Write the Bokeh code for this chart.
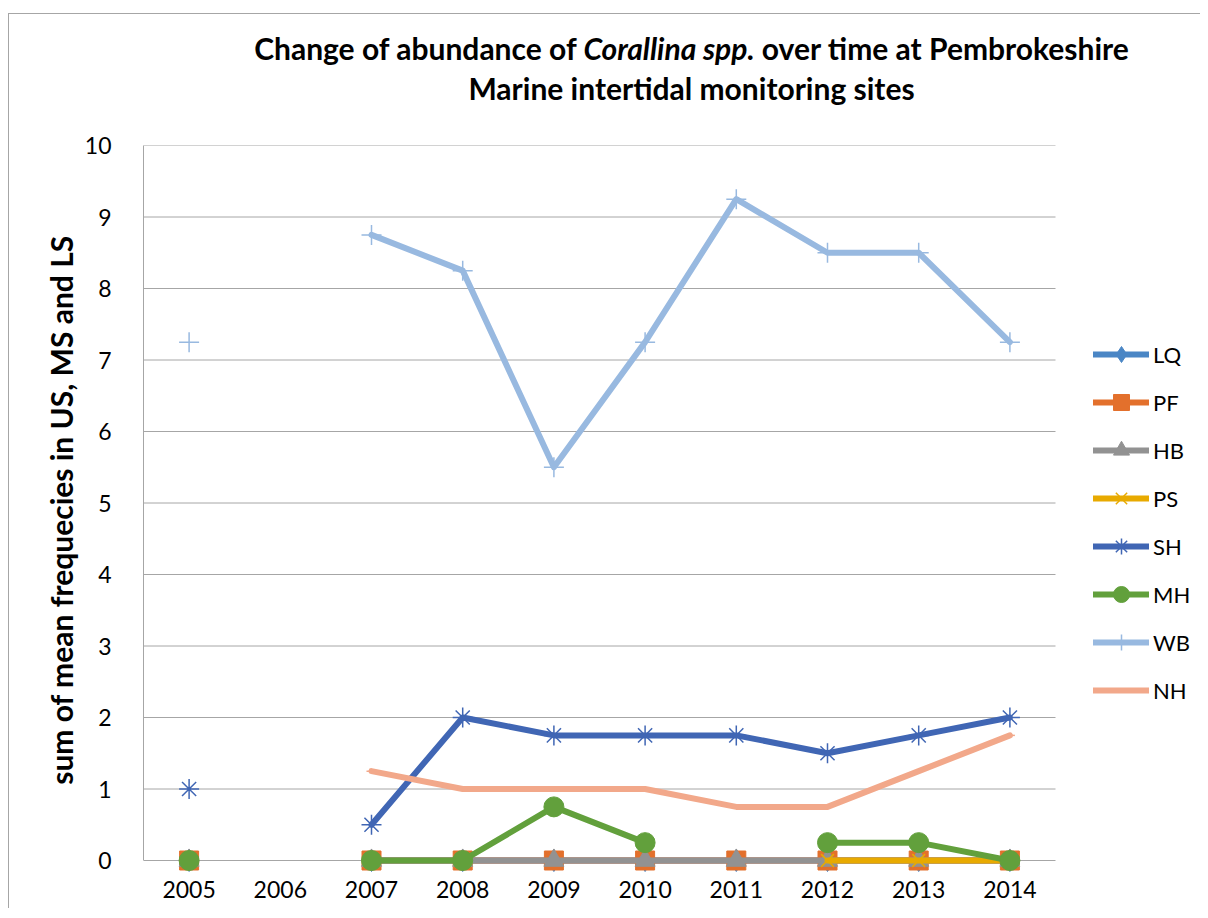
import numpy as np
from bokeh.plotting import figure
from bokeh.layouts import column
from bokeh.models import (ColumnDataSource, Range1d, FixedTicker, Legend, LegendItem, Div)
from bokeh.embed import file_html
from bokeh.resources import INLINE

years = [2005, 2006, 2007, 2008, 2009, 2010, 2011, 2012, 2013, 2014]
series_names = ["LQ", "PF", "HB", "PS", "SH", "MH", "WB", "NH"]
LQ = [0, None, 0, 0, 0, 0, 0, 0, 0, 0]
PF = [0, None, 0, 0, 0, 0, 0, 0, 0, 0]
HB = [0, None, 0, 0, 0, 0, 0, 0, 0, 0]
PS = [None, None, None, None, None, None, None, 0, 0, 0]
SH = [1, None, 0.5, 2, 1.75, 1.75, 1.75, 1.5, 1.75, 2]
MH = [0, None, 0, 0, 0.75, 0.25, None, 0.25, 0.25, 0]
WB = [7.25, None, 8.75, 8.25, 5.5, 7.25, 9.25, 8.5, 8.5, 7.25]
NH = [None, None, 1.25, 1.0, 1.0, 1.0, 0.75, 0.75, 1.25, 1.75]
y_ticks = [0, 1, 2, 3, 4, 5, 6, 7, 8, 9, 10]

values = {"LQ": LQ, "PF": PF, "HB": HB, "PS": PS, "SH": SH, "MH": MH, "WB": WB, "NH": NH}
colors = {"LQ": "#4a86c5", "PF": "#e3702c", "HB": "#929292", "PS": "#e8aa00",
          "SH": "#4066b4", "MH": "#62a03c", "WB": "#98b9e0", "NH": "#f2a88a"}
markers = {"LQ": ("diamond", 22), "PF": ("square", 19), "HB": ("triangle", 20),
           "PS": ("x", 18), "SH": ("asterisk", 20), "MH": ("circle", 20),
           "WB": ("cross", 20), "NH": ("dash", 10)}

FONT = "Lato"
BORDER = "#a6a6a6"

# layout geometry (pixels, page coordinates)
OX, OY = 9, 14                     # content origin inside bordered container
FIG_W = 1200 - OX
PLOT_LEFT, PLOT_RIGHT = 143, 1055  # frame x extent of the category area
PLOT_TOP, PLOT_ZERO = 145, 860     # y of value 10 and value 0
PAD_PX = 14                        # room below zero so baseline markers are not clipped
TITLE_H = 120 - OY
LEFT = PLOT_LEFT - OX
RIGHT_PAD = 8
TOP = PLOT_TOP - (OY + TITLE_H)
BOTTOM = 34

x0 = years[0] - 0.5
x1_data = years[-1] + 0.5
frame_w = FIG_W - LEFT - RIGHT_PAD
x_end = x0 + frame_w * (x1_data - x0) / (PLOT_RIGHT - PLOT_LEFT)
unit_px = (PLOT_ZERO - PLOT_TOP) / (y_ticks[-1] - y_ticks[0])
y_start = y_ticks[0] - PAD_PX / unit_px
frame_h = (PLOT_ZERO - PLOT_TOP) + PAD_PX
FIG_H = TOP + frame_h + BOTTOM

title = Div(
    text=('<div style="position:relative; left:%dpx; width:%dpx; text-align:center; '
          'font-family:Lato; font-weight:bold; font-size:30px; line-height:40px; '
          'padding-top:%dpx; color:#000; white-space:nowrap;">'
          'Change of abundance of <i>Corallina spp.</i> over time at Pembrokeshire<br>'
          'Marine intertidal monitoring sites</div>') % (691 - OX - FIG_W // 2, FIG_W, 28 - OY),
    width=FIG_W, height=TITLE_H, margin=(0, 0, 0, 0))

p = figure(width=FIG_W, height=int(FIG_H), output_backend="svg", toolbar_location=None,
           x_range=Range1d(x0, x_end), y_range=Range1d(y_start, y_ticks[-1]),
           min_border_left=LEFT, min_border_right=RIGHT_PAD, min_border_top=TOP,
           min_border_bottom=BOTTOM, margin=(0, 0, 0, 0))
p.outline_line_color = None
p.background_fill_color = "white"
p.border_fill_color = "white"

p.xgrid.grid_line_color = None
p.ygrid.grid_line_color = None
# horizontal gridlines limited to the category area
p.segment(x0=[x0] * len(y_ticks), x1=[x1_data] * len(y_ticks), y0=y_ticks, y1=y_ticks,
          line_color=BORDER, line_width=1, level="underlay")

p.xaxis.ticker = FixedTicker(ticks=years)
p.yaxis.ticker = FixedTicker(ticks=y_ticks)
p.yaxis.bounds = (y_ticks[0], y_ticks[-1])
p.xaxis.axis_line_color = None
p.yaxis.axis_line_color = BORDER
for ax in (p.xaxis[0], p.yaxis[0]):
    ax.axis_line_width = 1
    ax.major_tick_line_color = None
    ax.minor_tick_line_color = None
    ax.major_label_text_font = FONT
    ax.major_label_text_font_size = "23px"
    ax.major_label_text_color = "#000000"
p.xaxis.major_label_standoff = 0
p.yaxis.major_label_standoff = 26
p.yaxis.axis_label = "sum of mean frequecies in US, MS and LS"
p.yaxis.axis_label_text_font = FONT
p.yaxis.axis_label_text_font_size = "30px"
p.yaxis.axis_label_text_font_style = "bold"
p.yaxis.axis_label_text_color = "#000000"
p.yaxis.axis_label_standoff = 3

items = []
for name in series_names:
    y = np.array([np.nan if v is None else v for v in values[name]], dtype=float)
    src = ColumnDataSource(dict(x=years, y=y))
    c = colors[name]
    lr = p.line("x", "y", source=src, line_color=c, line_width=6, line_join="round", line_cap="round")
    mk, sz = markers[name]
    if mk in ("x", "asterisk", "cross", "dash"):
        mr = p.scatter("x", "y", source=src, marker=mk, size=sz, line_color=c, line_width=1.5, fill_color=c)
    else:
        mr = p.scatter("x", "y", source=src, marker=mk, size=sz, line_color=c, line_width=1, fill_color=c)
    items.append(LegendItem(label=name, renderers=[lr, mr]))

legend = Legend(items=items, location=(1093 - PLOT_LEFT, 150 + PAD_PX), orientation="vertical",
                glyph_width=56, glyph_height=40, spacing=8, label_standoff=4,
                label_text_font=FONT, label_text_font_size="22px", label_text_color="#000000",
                border_line_color=None, background_fill_alpha=0, padding=0, margin=0)
p.add_layout(legend, "center")

layout = column(title, p, margin=(13, 0, 0, 8),
                styles={"border-top": "1px solid " + BORDER, "border-left": "1px solid " + BORDER})
open("out.html", "w").write(file_html(layout, INLINE))
